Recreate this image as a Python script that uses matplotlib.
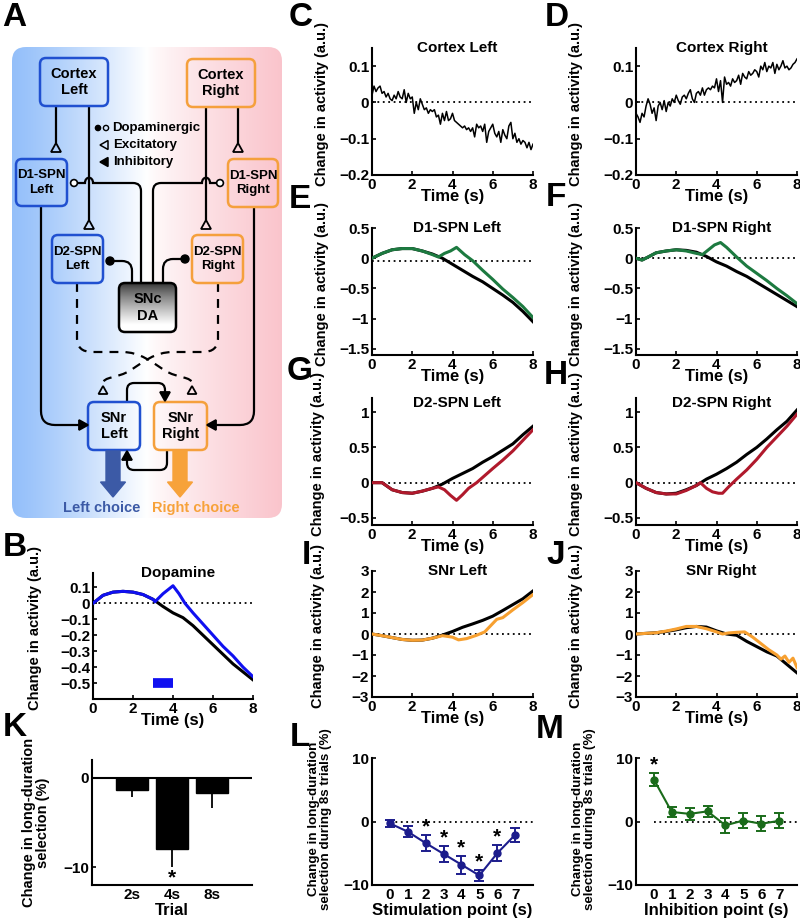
import numpy as np
import matplotlib
matplotlib.use("Agg")
import matplotlib.pyplot as plt
from matplotlib.path import Path
from matplotlib.patches import PathPatch, FancyBboxPatch, Polygon, Circle, FancyArrow

plt.rcParams['font.family'] = ['Liberation Sans', 'DejaVu Sans']
plt.rcParams['font.weight'] = 'bold'
plt.rcParams['axes.labelweight'] = 'bold'

# ---------------- data ----------------
t_fine = [round(0.1 * i, 1) for i in range(81)]
cortex_left = [0.02, 0.045, 0.03, 0.04, 0.045, 0.025, 0.03, 0.015, 0.025, 0.01, 0.005,
               0.02, 0.01, 0.03, 0.015, 0.01, 0.035, 0.0, 0.025, 0.01, 0.015,
               -0.03, 0.0, -0.02, 0.01, -0.005, -0.02, -0.015, -0.03, -0.02, -0.025,
               -0.02, -0.04, -0.035, -0.06, -0.03, -0.05, -0.025, -0.05, -0.045, -0.03,
               -0.05, -0.055, -0.06, -0.065, -0.07, -0.065, -0.075, -0.07, -0.08, -0.07,
               -0.095, -0.06, -0.07, -0.065, -0.08, -0.06, -0.11, -0.08, -0.07, -0.06,
               -0.085, -0.095, -0.08, -0.11, -0.075, -0.09, -0.1, -0.065, -0.055, -0.1,
               -0.085, -0.11, -0.1, -0.115, -0.105, -0.11, -0.125, -0.11, -0.13, -0.115]
cortex_right = [-0.03, -0.04, -0.055, -0.03, -0.04, -0.01, 0.01, -0.005, -0.03, -0.015, -0.05,
                -0.01, 0.0, -0.02, 0.005, -0.025, 0.0, -0.01, 0.01, 0.0, 0.02,
                0.005, -0.005, 0.015, 0.02, 0.01, 0.025, 0.035, 0.01, 0.0, 0.025,
                0.03, 0.02, 0.04, 0.02, 0.035, 0.04, 0.035, 0.045, 0.04, 0.065,
                0.03, 0.06, 0.0, 0.07, 0.05, 0.055, 0.045, 0.065, 0.055, 0.06,
                0.075, 0.05, 0.08, 0.07, 0.065, 0.085, 0.075, 0.08, 0.09, 0.085,
                0.07, 0.1, 0.09, 0.11, 0.085, 0.1, 0.095, 0.11, 0.08, 0.105,
                0.09, 0.1, 0.115, 0.095, 0.1, 0.09, 0.095, 0.105, 0.11, 0.12]

t_half = [0, 0.5, 1, 1.5, 2, 2.5, 3, 3.5, 4, 4.5, 5, 5.5, 6, 6.5, 7, 7.5, 8]

# B dopamine
da_ctrl = [0, 0.05, 0.07, 0.075, 0.07, 0.055, 0.025, -0.02, -0.06, -0.09, -0.14, -0.20, -0.26, -0.32, -0.38, -0.43, -0.48]
t_da_stim = [0, 0.5, 1, 1.5, 2, 2.5, 3, 3.1, 3.5, 4.0, 4.3, 4.6, 5, 5.5, 6, 6.5, 7, 7.5, 8]
da_stim = [0, 0.05, 0.07, 0.075, 0.07, 0.055, 0.025, 0.01, 0.06, 0.11, 0.06, 0.0, -0.06, -0.13, -0.20, -0.27, -0.33, -0.40, -0.46]
stim_window = [3, 4]

# E D1-SPN Left
d1l_ctrl = [0, 0.08, 0.14, 0.16, 0.16, 0.12, 0.07, 0.0, -0.10, -0.20, -0.30, -0.39, -0.50, -0.61, -0.73, -0.88, -1.05]
t_d1l_stim = [0, 0.5, 1, 1.5, 2, 2.5, 3, 3.3, 3.6, 3.9, 4.2, 4.6, 5.0, 5.5, 6.0, 6.5, 7.0, 7.5, 8.0]
d1l_stim = [0, 0.08, 0.14, 0.16, 0.16, 0.12, 0.06, 0.02, 0.08, 0.12, 0.18, 0.06, -0.04, -0.20, -0.35, -0.51, -0.65, -0.80, -0.98]
# F D1-SPN Right
t_d1r = [0, 0.3, 0.6, 1, 1.5, 2, 2.5, 3, 3.5, 4, 4.5, 5, 5.5, 6, 6.5, 7, 7.5, 8]
d1r_ctrl = [0, -0.03, 0.02, 0.09, 0.12, 0.14, 0.13, 0.10, 0.03, -0.06, -0.13, -0.22, -0.30, -0.40, -0.50, -0.60, -0.70, -0.80]
t_d1r_stim = [0, 0.3, 0.6, 1, 1.5, 2, 2.5, 3, 3.3, 3.6, 3.9, 4.2, 4.5, 5.0, 5.5, 6, 6.5, 7, 7.5, 8]
d1r_stim = [0, -0.03, 0.02, 0.09, 0.12, 0.14, 0.12, 0.08, 0.06, 0.14, 0.22, 0.26, 0.18, 0.02, -0.13, -0.25, -0.37, -0.50, -0.62, -0.75]
# G D2-SPN Left
d2l_ctrl = [0, 0.0, -0.10, -0.14, -0.15, -0.12, -0.08, -0.02, 0.06, 0.13, 0.20, 0.29, 0.37, 0.46, 0.55, 0.68, 0.80]
t_d2l_stim = [0, 0.5, 1, 1.5, 2, 2.5, 3, 3.3, 3.6, 3.9, 4.2, 4.5, 4.8, 5.2, 5.6, 6, 6.5, 7, 7.5, 8]
d2l_stim = [0, 0.0, -0.10, -0.14, -0.15, -0.12, -0.08, -0.06, -0.10, -0.18, -0.25, -0.17, -0.08, 0.0, 0.10, 0.20, 0.32, 0.45, 0.60, 0.75]
# H D2-SPN Right
d2r_ctrl = [0, -0.08, -0.14, -0.16, -0.15, -0.10, -0.04, 0.05, 0.12, 0.20, 0.29, 0.40, 0.50, 0.62, 0.75, 0.87, 1.03]
t_d2r_stim = [0, 0.5, 1, 1.5, 2, 2.5, 3, 3.2, 3.5, 3.8, 4.1, 4.3, 4.6, 5.0, 5.5, 6, 6.5, 7, 7.5, 8]
d2r_stim = [0, -0.08, -0.14, -0.16, -0.16, -0.11, -0.04, 0.0, -0.08, -0.13, -0.15, -0.15, -0.06, 0.05, 0.18, 0.33, 0.50, 0.65, 0.80, 0.97]
# I SNr Left
snl_ctrl = [0, -0.08, -0.17, -0.26, -0.30, -0.29, -0.20, -0.05, 0.12, 0.32, 0.48, 0.65, 0.85, 1.12, 1.40, 1.68, 2.05]
t_snl_stim = [0, 0.5, 1, 1.5, 2, 2.5, 3, 3.5, 4, 4.3, 4.7, 5.2, 5.6, 5.9, 6.2, 6.5, 7, 7.5, 8]
snl_stim = [0, -0.08, -0.17, -0.26, -0.30, -0.29, -0.20, -0.08, -0.15, -0.28, -0.22, -0.06, 0.10, 0.40, 0.70, 0.78, 1.15, 1.50, 1.88]
# J SNr Right
snr_ctrl = [0, 0.03, 0.06, 0.12, 0.20, 0.30, 0.36, 0.33, 0.15, 0.0, -0.06, -0.35, -0.60, -0.85, -1.05, -1.45, -1.85]
t_snr_stim = [0, 0.5, 1, 1.5, 2, 2.5, 3, 3.5, 4, 4.3, 4.6, 5, 5.4, 5.8, 6.2, 6.6, 7, 7.2, 7.4, 7.6, 7.8, 8]
snr_stim = [0, 0.03, 0.06, 0.14, 0.24, 0.36, 0.36, 0.25, 0.10, 0.0, 0.05, 0.08, 0.10, -0.15, -0.45, -0.75, -1.0, -1.2, -1.05, -1.35, -1.15, -1.6]

# K
trial_labels = ['2s', '4s', '8s']
trial_change = [-1.4, -8.0, -1.7]
trial_err = [0.8, 2.0, 1.7]
# L
stim_points = [0, 1, 2, 3, 4, 5, 6, 7]
stim_change = [-0.3, -1.6, -3.4, -5.1, -6.8, -8.5, -5.0, -2.1]
stim_err = [0.5, 0.9, 1.3, 1.2, 1.4, 0.9, 1.25, 1.05]
stim_sig = [2, 3, 4, 5, 6]
# M
inh_points = [0, 1, 2, 3, 4, 5, 6, 7]
inh_change = [6.6, 1.5, 1.2, 1.6, -0.6, 0.15, -0.35, 0.1]
inh_err = [1.0, 0.8, 0.9, 0.85, 1.2, 1.15, 1.15, 1.2]
inh_sig = [0]

time_ticks = [0, 2, 4, 6, 8]

# ---------------- figure ----------------
W, H = 800, 923
fig = plt.figure(figsize=(W / 100, H / 100), dpi=100)

# diagram canvas in pixel coordinates
ax0 = fig.add_axes([0, 0, 1, 1])
ax0.set_xlim(0, W)
ax0.set_ylim(H, 0)
ax0.axis('off')

BLUE = '#2050d0'
ORANGE = '#f5a03c'
LW = 1.6

# gradient background
bg = FancyBboxPatch((12, 47), 270, 471, boxstyle='round,pad=0,rounding_size=14',
                    facecolor='none', edgecolor='none')
ax0.add_patch(bg)
n = 256
f = np.linspace(0, 1, n)
left_c = np.array([0.58, 0.75, 0.98])
right_c = np.array([0.98, 0.77, 0.80])
white = np.array([1.0, 1.0, 1.0])
grad = np.zeros((2, n, 3))
for i, v in enumerate(f):
    if v < 0.5:
        c = left_c + (white - left_c) * (v / 0.5) ** 1.2
    else:
        c = white + (right_c - white) * ((v - 0.5) / 0.5) ** 0.8
    grad[:, i, :] = c
im = ax0.imshow(grad, extent=[12, 282, 518, 47], aspect='auto', zorder=0, interpolation='bilinear')
im.set_clip_path(bg)


def rbox(x0, x1, y0, y1, ec, text, fc='none', tsize=9.5):
    p = FancyBboxPatch((x0, y0), x1 - x0, y1 - y0, boxstyle='round,pad=0,rounding_size=6',
                       facecolor=fc, edgecolor=ec, linewidth=1.8, zorder=3)
    ax0.add_patch(p)
    if text:
        ax0.text((x0 + x1) / 2, (y0 + y1) / 2, text, ha='center', va='center',
                 fontsize=tsize, fontweight='bold', linespacing=1.25, zorder=5)
    return p


def rpath(pts, r=8, **kw):
    verts = [pts[0]]
    codes = [Path.MOVETO]
    for i in range(1, len(pts) - 1):
        p0, p1, p2 = np.array(pts[i - 1], float), np.array(pts[i], float), np.array(pts[i + 1], float)
        d1 = (p1 - p0) / np.linalg.norm(p1 - p0)
        d2 = (p2 - p1) / np.linalg.norm(p2 - p1)
        a = p1 - d1 * r
        b = p1 + d2 * r
        verts += [tuple(a), tuple(p1), tuple(b)]
        codes += [Path.LINETO, Path.CURVE3, Path.CURVE3]
    verts.append(pts[-1])
    codes.append(Path.LINETO)
    ax0.add_patch(PathPatch(Path(verts, codes), facecolor='none', edgecolor='k',
                            linewidth=kw.get('lw', LW), linestyle=kw.get('ls', '-'),
                            capstyle='butt', zorder=2))


def tri(apex, direction, filled, size=5, length=9):
    x, y = apex
    if direction == 'down':   # base below apex
        pts = [(x, y), (x - size, y + length), (x + size, y + length)]
    elif direction == 'up':
        pts = [(x, y), (x - size, y - length), (x + size, y - length)]
    elif direction == 'right':
        pts = [(x, y), (x - length, y - size), (x - length, y + size)]
    else:
        pts = [(x, y), (x + length, y - size), (x + length, y + size)]
    ax0.add_patch(Polygon(pts, closed=True, facecolor='k' if filled else 'none',
                          edgecolor='k', linewidth=1.3, zorder=4))


# boxes
rbox(40, 108, 58, 106, BLUE, 'Cortex\nLeft', tsize=10.5)
rbox(187, 255, 59, 107, ORANGE, 'Cortex\nRight', tsize=10.5)
rbox(16, 67, 159, 206, BLUE, 'D1-SPN\nLeft')
rbox(228, 278, 159, 207, ORANGE, 'D1-SPN\nRight')
rbox(52, 103, 235, 283, BLUE, 'D2-SPN\nLeft')
rbox(192, 243, 235, 283, ORANGE, 'D2-SPN\nRight')
rbox(88, 140, 402, 450, BLUE, 'SNr\nLeft', tsize=10.5)
rbox(154, 207, 402, 450, ORANGE, 'SNr\nRight', tsize=10.5)

# SNc gradient box
snc = FancyBboxPatch((119, 283), 57, 49, boxstyle='round,pad=0,rounding_size=6',
                     facecolor='none', edgecolor='k', linewidth=1.8, zorder=3)
ax0.add_patch(snc)
vg = np.linspace(0, 1, 64)
gimg = np.zeros((64, 2, 3))
for i, v in enumerate(vg):
    val = 0.2 + 0.8 * min(1, v / 0.85) ** 0.8
    gimg[i, :, :] = val
im2 = ax0.imshow(gimg, extent=[119, 176, 332, 283], aspect='auto', zorder=2.5, interpolation='bilinear')
im2.set_clip_path(snc)
ax0.text(147.5, 307.5, 'SNc\nDA', ha='center', va='center', fontsize=10.5, fontweight='bold',
         linespacing=1.25, zorder=5)

# cortex projections (excitatory)
rpath([(56, 106), (56, 143)])
tri((56, 143), 'down', False)
rpath([(89, 106), (89, 220)])
tri((89, 220), 'down', False)
rpath([(238, 107), (238, 143)])
tri((238, 143), 'down', False)
rpath([(206, 107), (206, 220)])
tri((206, 220), 'down', False)


# dopamine projections with hops
def hop_line(x_end, y, hop_x, xv, r=8):
    s = 1 if x_end > xv else -1
    verts = [(xv, 283), (xv, y + r), (xv, y), (xv + s * r, y),
             (hop_x - s * 4, y), (hop_x - s * 4, y - 7), (hop_x + s * 4, y - 7), (hop_x + s * 4, y),
             (x_end, y)]
    codes = [Path.MOVETO, Path.LINETO, Path.CURVE3, Path.CURVE3,
             Path.LINETO, Path.CURVE4, Path.CURVE4, Path.CURVE4, Path.LINETO]
    ax0.add_patch(PathPatch(Path(verts, codes), facecolor='none', edgecolor='k', linewidth=LW, zorder=2))


hop_line(77.5, 183, 89, 141)
hop_line(216.5, 183, 206, 153)
ax0.add_patch(Circle((74, 183), 3.4, facecolor='white', edgecolor='k', linewidth=1.2, zorder=4))
ax0.add_patch(Circle((220, 183), 3.4, facecolor='white', edgecolor='k', linewidth=1.2, zorder=4))
rpath([(132, 283), (132, 261), (112, 261)], r=10)
rpath([(163, 283), (163, 259), (183, 259)], r=10)
ax0.add_patch(Circle((110, 261), 4, facecolor='k', edgecolor='k', zorder=4))
ax0.add_patch(Circle((185, 259), 4, facecolor='k', edgecolor='k', zorder=4))

# D1 -> SNr (inhibitory)
rpath([(41, 206), (41, 425), (80, 425)], r=14)
tri((88, 425), 'right', True)
rpath([(254, 207), (254, 425), (215, 425)], r=14)
tri((207, 425), 'left', True)

# D2 -> SNr crossed dashed (excitatory)
for sgn in (1, -1):
    def X(x):
        return x if sgn == 1 else 295 - x
    verts = [(X(77), 283), (X(77), 338), (X(77), 352), (X(92), 352), (X(122), 352),
             (X(140), 352), (X(152), 362), (X(164), 370),
             (X(178), 379), (X(192), 376), (X(192), 384)]
    codes = [Path.MOVETO, Path.LINETO, Path.CURVE3, Path.CURVE3, Path.LINETO,
             Path.CURVE4, Path.CURVE4, Path.CURVE4,
             Path.CURVE4, Path.CURVE4, Path.CURVE4]
    ax0.add_patch(PathPatch(Path(verts, codes), facecolor='none', edgecolor='k', linewidth=LW,
                            linestyle=(0, (4, 3.2)), zorder=2))
    tri((X(192), 386), 'down', False, size=4.5, length=8)

# SNr mutual inhibition
rpath([(127, 402), (127, 383), (165, 383), (165, 392)], r=7)
tri((165, 401), 'up', True)
rpath([(167, 450), (167, 470), (127, 470), (127, 460)], r=7)
tri((127, 451), 'down', True)

# choice arrows
ax0.add_patch(FancyArrow(113, 451, 0, 46, width=14, head_width=25, head_length=15,
                         length_includes_head=True, color='#3c5aa6', zorder=3))
ax0.add_patch(FancyArrow(180, 451, 0, 46, width=14, head_width=25, head_length=15,
                         length_includes_head=True, color='#f7a23a', zorder=3))
ax0.text(102, 508, 'Left choice', ha='center', va='center', fontsize=10.5, fontweight='bold', color='#3c5aa6')
ax0.text(196, 508, 'Right choice', ha='center', va='center', fontsize=10.5, fontweight='bold', color='#f7a23a')

# legend in diagram
ax0.add_patch(Circle((98, 128), 2.6, facecolor='k', edgecolor='k', zorder=4))
ax0.add_patch(Circle((106, 128), 2.6, facecolor='none', edgecolor='k', linewidth=1.0, zorder=4))
ax0.text(112, 128, 'Dopaminergic', ha='left', va='center', fontsize=9.5, fontweight='bold')
ax0.add_patch(Polygon([(100, 145), (108, 140.5), (108, 149.5)], closed=True, facecolor='none',
                      edgecolor='k', linewidth=1.1, zorder=4))
ax0.text(113, 145, 'Excitatory', ha='left', va='center', fontsize=9.5, fontweight='bold')
ax0.add_patch(Polygon([(100, 162), (108, 157.5), (108, 166.5)], closed=True, facecolor='k',
                      edgecolor='k', linewidth=1.1, zorder=4))
ax0.text(113, 162, 'Inhibitory', ha='left', va='center', fontsize=9.5, fontweight='bold')

# panel letters
letters = {'A': (14, 17), 'B': (15, 547), 'C': (301, 17), 'D': (557, 17), 'E': (300, 200),
           'F': (556, 198), 'G': (300, 372), 'H': (556, 375), 'I': (306, 556), 'J': (556, 555),
           'K': (15, 727), 'L': (300, 738), 'M': (550, 730)}
for k, (x, y) in letters.items():
    ax0.text(x, y, k, ha='center', va='center', fontsize=24, fontweight='bold')


# ---------------- panels ----------------
def make_ax(l, r, t, b):
    ax = fig.add_axes([l / W, 1 - b / H, (r - l) / W, (b - t) / H])
    for s in ['top', 'right']:
        ax.spines[s].set_visible(False)
    for s in ['left', 'bottom']:
        ax.spines[s].set_linewidth(1.5)
    ax.tick_params(direction='in', length=3, width=1.2, labelsize=11, pad=2)
    ax.patch.set_alpha(0)
    return ax


def fmt(v):
    s = ('%g' % v)
    return s.replace('-', '\u2212')


def time_panel(rect, title, ylim, yticks, series, lbl_x, zero=0.0, lw=2.2, title_dy=0.0):
    ax = make_ax(*rect)
    ax.plot([0, 8], [zero, zero], color='k', linestyle=(0, (1, 2)), lw=1.3, zorder=1)
    for (tt, vv, c) in series:
        ax.plot(tt, vv, color=c, lw=lw, solid_joinstyle='round', zorder=3)
    ax.set_xlim(0, 8)
    ax.set_ylim(*ylim)
    ax.set_xticks(time_ticks, [fmt(v) for v in time_ticks], fontweight='bold')
    ax.set_yticks(yticks, [fmt(v) for v in yticks], fontweight='bold')
    ax.text(0.53, 1.0 - title_dy, title, transform=ax.transAxes, ha='center', va='center',
            fontsize=11, fontweight='bold')
    ax.set_xlabel('Time (s)', fontsize=12, fontweight='bold', labelpad=-2)
    ax.set_ylabel('Change in activity (a.u.)', fontsize=10.5, fontweight='bold')
    ax.yaxis.set_label_coords(lbl_x, 0.56)
    return ax


K = 'k'
GREEN = '#1d7a40'
RED = '#b0192c'
ORG = '#f7a030'
time_panel((372, 533, 48, 175), 'Cortex Left', (-0.2, 0.15), [-0.2, -0.1, 0, 0.1],
           [(t_fine, cortex_left, K)], -0.27, lw=1.1)
time_panel((636, 797, 48, 175), 'Cortex Right', (-0.2, 0.15), [-0.2, -0.1, 0, 0.1],
           [(t_fine, cortex_right, K)], -0.33, lw=1.1)
time_panel((372, 533, 228, 355), 'D1-SPN Left', (-1.6, 0.5), [-1.5, -1, -0.5, 0, 0.5],
           [(t_half, d1l_ctrl, K), (t_d1l_stim, d1l_stim, GREEN)], -0.27, zero=-0.05)
time_panel((636, 797, 228, 355), 'D1-SPN Right', (-1.6, 0.5), [-1.5, -1, -0.5, 0, 0.5],
           [(t_d1r, d1r_ctrl, K), (t_d1r_stim, d1r_stim, GREEN)], -0.33)
time_panel((372, 533, 398, 525), 'D2-SPN Left', (-0.6, 1.2), [-0.5, 0, 0.5, 1],
           [(t_half, d2l_ctrl, K), (t_d2l_stim, d2l_stim, RED)], -0.29, title_dy=0.04)
time_panel((636, 797, 398, 525), 'D2-SPN Right', (-0.6, 1.2), [-0.5, 0, 0.5, 1],
           [(t_half, d2r_ctrl, K), (t_d2r_stim, d2r_stim, RED)], -0.33, title_dy=0.04)
time_panel((372, 533, 571, 697), 'SNr Left', (-3, 3), [-3, -2, -1, 0, 1, 2, 3],
           [(t_half, snl_ctrl, K), (t_snl_stim, snl_stim, ORG)], -0.29)
time_panel((636, 797, 571, 697), 'SNr Right', (-3, 3), [-3, -2, -1, 0, 1, 2, 3],
           [(t_half, snr_ctrl, K), (t_snr_stim, snr_stim, ORG)], -0.33)
axB = time_panel((93, 253, 573, 699), 'Dopamine', (-0.6, 0.19),
                 [-0.5, -0.4, -0.3, -0.2, -0.1, 0, 0.1],
                 [(t_half, da_ctrl, K), (t_da_stim, da_stim, '#1010f0')], -0.32)
axB.plot(stim_window, [-0.5, -0.5], color='#1010f0', lw=7, solid_capstyle='butt')

# K
axK = make_ax(92, 252, 760, 885)
xk = [1, 2, 3]
axK.bar(xk, trial_change, width=0.8, color='k', edgecolor='k', zorder=2)
axK.errorbar(xk, trial_change, yerr=[trial_err, [0, 0, 0]], fmt='none', ecolor='k', elinewidth=1.3,
             capsize=0, zorder=3)
axK.axhline(0, color='k', lw=1.5, zorder=1)
axK.set_xlim(0, 4)
axK.set_ylim(-12, 2)
axK.set_xticks(xk, trial_labels, fontweight='bold')
axK.set_yticks([-10, 0], [fmt(-10), '0'], fontweight='bold')
axK.tick_params(axis='x', length=0)
axK.text(2, -11.2, '*', ha='center', va='center', fontsize=15, fontweight='bold')
axK.set_xlabel('Trial', fontsize=12, fontweight='bold', labelpad=1)
axK.set_ylabel('Change in long-duration\nselection (%)', fontsize=10.5, fontweight='bold',
               linespacing=1.0)
axK.yaxis.set_label_coords(-0.26, 0.5)


def point_panel(rect, xs, ys, es, sig, color, xlabel):
    ax = make_ax(*rect)
    ax.plot([0, 8], [0, 0], color='k', linestyle=(0, (1, 2)), lw=1.3, zorder=1)
    ax.errorbar(xs, ys, yerr=es, fmt='-o', color=color, ecolor=color, lw=1.5, ms=5,
                elinewidth=1.4, capsize=3.5, capthick=1.4, zorder=3)
    for i in sig:
        ax.text(xs[i], ys[i] + es[i] + 1.3, '*', ha='center', va='center', fontsize=15,
                fontweight='bold')
    ax.set_xlim(-1, 8)
    ax.set_ylim(-10, 10)
    ax.set_xticks(xs, [str(v) for v in xs], fontweight='bold')
    ax.set_yticks([-10, 0, 10], [fmt(-10), '0', '10'], fontweight='bold')
    ax.tick_params(axis='x', length=0)
    ax.set_xlabel(xlabel, fontsize=12, fontweight='bold', labelpad=1)
    ax.set_ylabel('Change in long-duration\nselection during 8s trials (%)', fontsize=9.6,
                  fontweight='bold', linespacing=1.0)
    ax.yaxis.set_label_coords(-0.25, 0.52)
    return ax


point_panel((372, 533, 758, 885), stim_points, stim_change, stim_err, stim_sig, '#1c1c8c',
            'Stimulation point (s)')
point_panel((636, 797, 758, 885), inh_points, inh_change, inh_err, inh_sig, '#1a6b1a',
            'Inhibition point (s)')

fig.savefig('out.png', dpi=100)
